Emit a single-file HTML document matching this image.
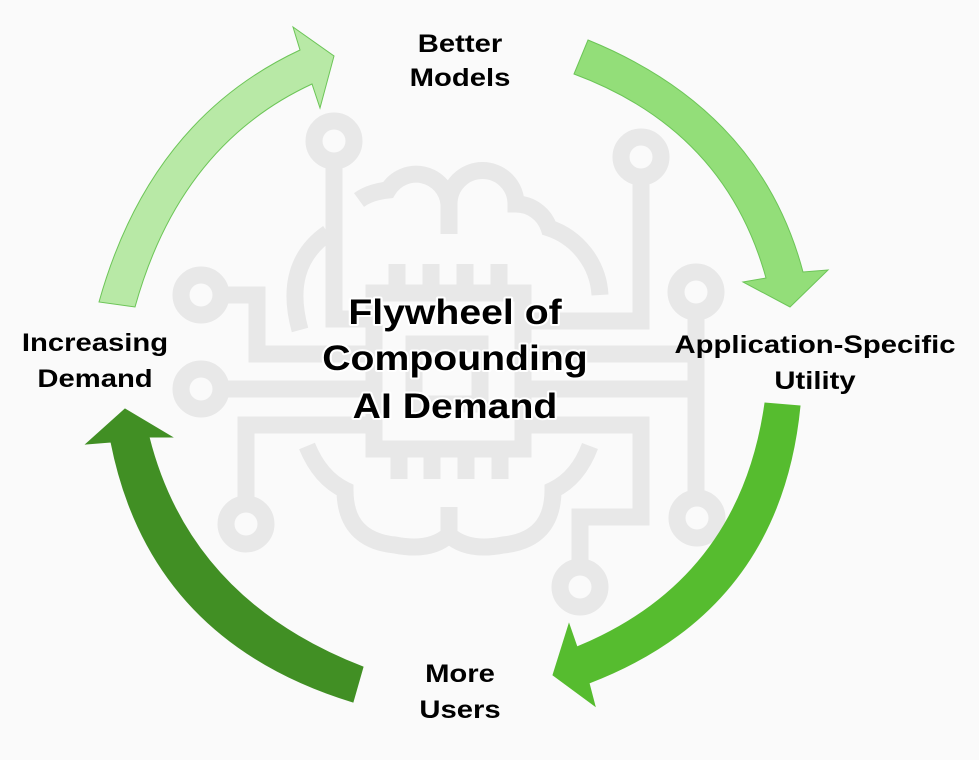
<!DOCTYPE html>
<html><head><meta charset="utf-8"><style>
html,body{margin:0;padding:0;background:#fafafa;}
svg{display:block;}
text{font-family:"Liberation Sans",Arial,sans-serif;font-weight:bold;fill:#000;}
</style></head><body>
<svg width="979" height="760" viewBox="0 0 979 760" xmlns="http://www.w3.org/2000/svg">
<rect width="979" height="760" fill="#fafafa"/>
<g fill="none" stroke="#e8e8e8" stroke-width="17">
  <circle cx="334" cy="141" r="20"/>
  <circle cx="641" cy="157" r="20"/>
  <circle cx="201" cy="295" r="20"/>
  <circle cx="201" cy="389" r="20"/>
  <circle cx="246" cy="524" r="20"/>
  <circle cx="696" cy="292" r="20"/>
  <circle cx="697" cy="518" r="20"/>
  <circle cx="580" cy="587" r="20"/>
  <path d="M334,161 V319 H374"/>
  <path d="M641,177 V321 H523"/>
  <path d="M221,295 H257 V354 H374"/>
  <path d="M221,389 H374"/>
  <path d="M246,504 V425 H374"/>
  <path d="M696,312 V498"/>
  <path d="M523,354 H696 M523,389 H696"/>
  <path d="M580,567 V517 H641 V425 H523"/>
  <rect x="374" y="293" width="149" height="156"/>
  <rect x="414" y="344" width="66" height="60"/>
  <path d="M397,264 V290 M431,264 V290 M465,264 V290 M499,264 V290"/>
  <path d="M399,452 V479 M432,452 V479 M466,452 V479 M500,452 V479"/>
  <path d="M300,330 Q282,265 328,233"/>
  <path d="M359,200 Q370,192 388,190 A33 33 0 0 1 449,204 V234 M449,204 A33 33 0 0 1 516,204 A35 35 0 0 1 549,228 A75 75 0 0 1 600,295"/>
  <path d="M307,446 Q320,478 345,490 Q345,540 395,545 Q430,552 449,535 Q468,552 503,545 Q553,540 553,490 Q578,478 590,446"/>
  <path d="M449,507 V540"/>
</g>
<path d="M99,302 Q150,120 300,50 L293,27 L334,56 L320,108 L312,84 Q180,145 135,307 Z" fill="#b8e9a6" stroke="#6cc557" stroke-width="1"/>
<path d="M588,40 Q760,110 803,272 L828,270 L790,307 L743,282 L766,278 Q725,130 574,74 Z" fill="#93de79" stroke="#6cc557" stroke-width="1"/>
<path d="M765,403 Q740,580 577,647 L569,624 L553,675 L595,706 L589,683 Q780,610 800,406 Z" fill="#56bc2f" stroke="#56bc2f" stroke-width="1"/>
<path d="M363,667 Q190,600 149,437 L172,437 L125,409 L86,444 L111,442 Q150,640 353,702 Z" fill="#418f24" stroke="#418f24" stroke-width="1"/>
<g font-size="25" text-anchor="middle">
  <text transform="translate(460,52) scale(1.17,1)">Better</text>
  <text transform="translate(460,86) scale(1.17,1)">Models</text>
  <text transform="translate(815,353) scale(1.17,1)">Application-Specific</text>
  <text transform="translate(815,389) scale(1.17,1)">Utility</text>
  <text transform="translate(95,351) scale(1.17,1)">Increasing</text>
  <text transform="translate(95,387) scale(1.17,1)">Demand</text>
  <text transform="translate(460,682) scale(1.17,1)">More</text>
  <text transform="translate(460,718) scale(1.17,1)">Users</text>
</g>
<g font-size="35" text-anchor="middle" stroke="#fff" stroke-width="4" paint-order="stroke" stroke-linejoin="round">
  <text transform="translate(455,324) scale(1.12,1)">Flywheel of</text>
  <text transform="translate(455,370) scale(1.12,1)">Compounding</text>
  <text transform="translate(455,418) scale(1.12,1)">AI Demand</text>
</g>
</svg>
</body></html>
